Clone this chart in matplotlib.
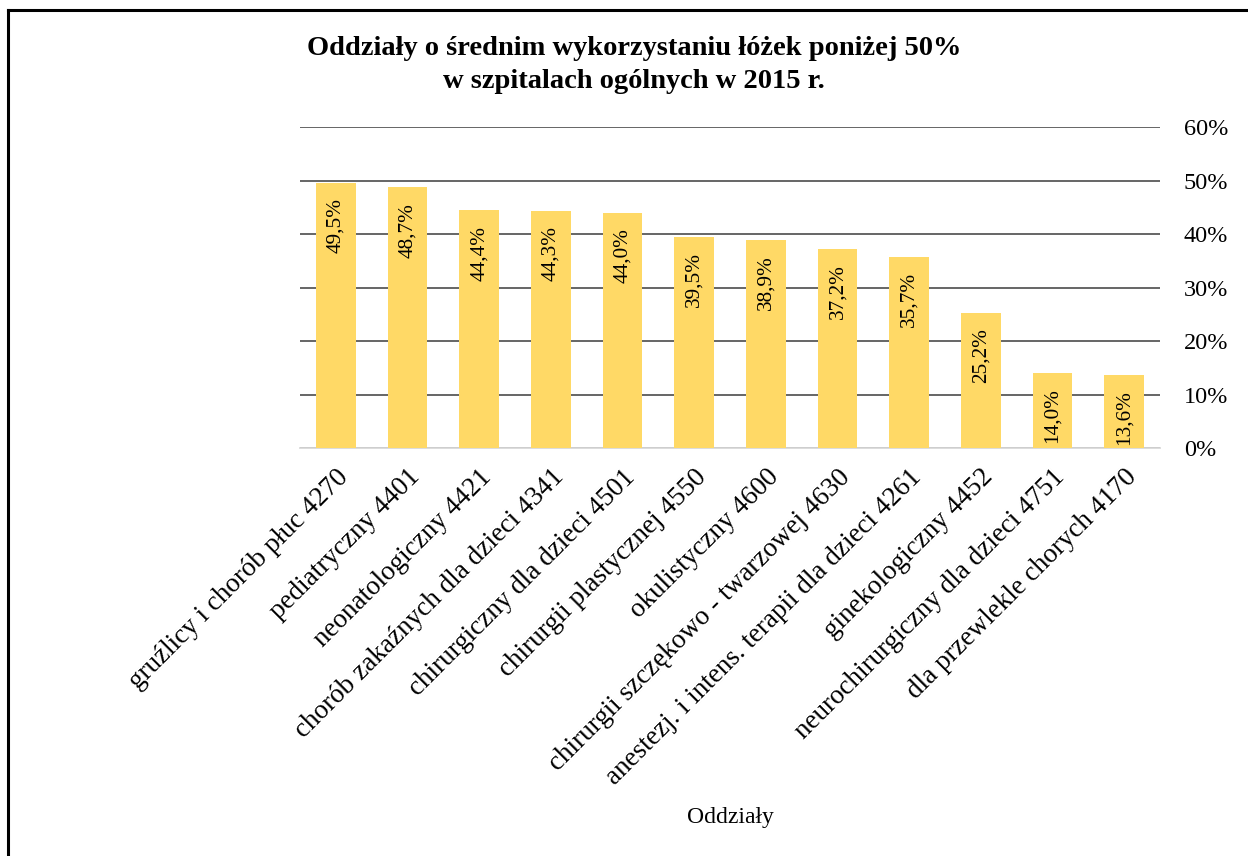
import matplotlib
matplotlib.use("Agg")
import matplotlib.pyplot as plt
from matplotlib.lines import Line2D
from matplotlib.ticker import PercentFormatter

# data
oddzialy = [
    "gruźlicy i chorób płuc 4270",
    "pediatryczny 4401",
    "neonatologiczny 4421",
    "chorób zakaźnych dla dzieci 4341",
    "chirurgiczny dla dzieci 4501",
    "chirurgii plastycznej 4550",
    "okulistyczny 4600",
    "chirurgii szczękowo - twarzowej 4630",
    "anestezj. i intens. terapii dla dzieci 4261",
    "ginekologiczny 4452",
    "neurochirurgiczny dla dzieci 4751",
    "dla przewlekle chorych 4170",
]
wykorzystanie = [49.5, 48.7, 44.4, 44.3, 44.0, 39.5, 38.9, 37.2, 35.7, 25.2, 14.0, 13.6]
y_ticks = [0, 10, 20, 30, 40, 50, 60]

plt.rcParams['font.family'] = ['Liberation Serif', 'DejaVu Serif']

fig = plt.figure(figsize=(12.48, 8.56), dpi=100)
ax = fig.add_axes([0.2404, 0.4766, 0.6891, 0.375])

x = list(range(len(oddzialy)))
bars = ax.bar(x, wykorzystanie, width=0.55, color='#FFD966', zorder=3)

for b, v in zip(bars, wykorzystanie):
    ax.annotate(f"{v:.1f}%".replace('.', ','),
                xy=(b.get_x() + b.get_width() / 2, v),
                xytext=(0, -11), textcoords='offset points',
                rotation=90, ha='center', va='top', fontsize=15.3, zorder=4)

ax.set_xlim(-0.5, len(oddzialy) - 0.5)
ax.set_ylim(0, 60)
ax.set_yticks(y_ticks)
ax.yaxis.set_major_formatter(PercentFormatter(decimals=0))
ax.yaxis.tick_right()
ax.tick_params(axis='y', length=0, pad=17, labelsize=17.5)
ax.tick_params(axis='x', length=0, pad=12)
ax.grid(axis='y', color='#595959', linewidth=1.3, zorder=0)

ax.set_xticks(x)
ax.set_xticklabels(oddzialy, rotation=45, ha='right', rotation_mode='anchor', fontsize=19.5)

for s in ['top', 'right', 'left']:
    ax.spines[s].set_visible(False)
ax.spines['bottom'].set_color('#D9D9D9')
ax.spines['bottom'].set_linewidth(1.3)

fig.text(0.508, 0.924, "Oddziały o średnim wykorzystaniu łóżek poniżej 50%\nw szpitalach ogólnych w 2015 r.",
         ha='center', va='center', fontsize=20.5, fontweight='bold', linespacing=1.45)
fig.text(0.585, 0.045, "Oddziały", ha='center', va='center', fontsize=17)

# outer frame (only top and left edges are visible in the original)
fig.add_artist(Line2D([0.0065, 1.0], [0.9885, 0.9885], color='black', linewidth=2.2))
fig.add_artist(Line2D([0.0065, 0.0065], [0.0, 0.9885], color='black', linewidth=2.2))

fig.savefig("out.png", dpi=100, facecolor='white')
